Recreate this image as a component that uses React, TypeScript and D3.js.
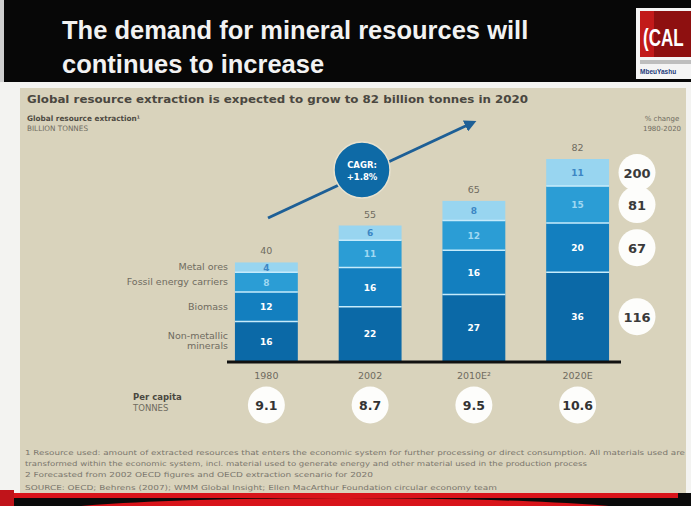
import React from "react";
import * as d3 from "d3";

const years = ["1980", "2002", "2010E", "2020E"];
const yearLabels = ["1980", "2002", "2010E²", "2020E"];
const nonMetallic = [16, 22, 27, 36];
const biomass = [12, 16, 18, 20];
const fossil = [8, 11, 12, 15];
const metalOres = [4, 6, 8, 11];
const totals = [40, 55, 65, 82];
const segLabels = [
  ["16", "22", "27", "36"],
  ["12", "16", "16", "20"],
  ["8", "11", "12", "15"],
  ["4", "6", "8", "11"],
];
const pctChange = [116, 67, 81, 200];
const perCapita = ["9.1", "8.7", "9.5", "10.6"];
const legendLines = [["Non-metallic", "minerals"], ["Biomass"], ["Fossil energy carriers"], ["Metal ores"]];

const colors = ["#0b69a7", "#137fbf", "#2b9dd5", "#98d5f0"];
const segText = ["#ffffff", "#ffffff", "#9fd8f2", "#3c86c4"];

export default function App() {
  const W = 691, H = 506;
  const x = d3.scaleBand().domain(years).range([214.5, 629.5]).paddingInner(0.394).paddingOuter(0.197);
  const y = d3.scaleLinear().domain([0, 82]).range([361, 159]);
  const rows = years.map((yr, i) => ({ year: yr, v: [nonMetallic[i], biomass[i], fossil[i], metalOres[i]] }));
  const stack = d3.stack<any>().keys(["0", "1", "2", "3"]).value((d: any, k: string) => d.v[+k]);
  const series = stack(rows as any);
  const bw = x.bandwidth();
  const font = "'Liberation Sans', Arial, sans-serif";
  const body = "'DejaVu Sans', Verdana, sans-serif";
  const gray = "#6f6b60";

  const arrowStart = [268, 218];
  const arrowEnd = [472, 123];
  const cagr = [362, 170];

  return (
    <div style={{ position: "fixed", left: 0, top: 0 }}>
      <svg width={W} height={H} style={{ display: "block", fontFamily: font }}>
        <defs>
          <marker id="ah" viewBox="0 0 10 10" refX="6" refY="5" markerWidth="4" markerHeight="4" orient="auto">
            <path d="M0,0 L10,5 L0,10 z" fill="#1d5f96" />
          </marker>
        </defs>
        <rect width={W} height={H} fill="#f3f3f1" />
        {/* header */}
        <rect x={0} y={0} width={W} height={82} fill="#070707" />
        <rect x={0} y={0} width={4} height={82} fill="#cfcfcf" />
        <text x={62} y={39} fill="#f2f2f2" fontSize={25.5} fontWeight="bold">The demand for mineral resources will</text>
        <text x={62} y={73} fill="#f2f2f2" fontSize={25.5} fontWeight="bold">continues to increase</text>
        {/* logo */}
        <rect x={636} y={8} width={55} height={71} fill="#f4f4f4" />
        <rect x={640} y={11} width={51} height={46} fill="#8e1010" />
        <rect x={640} y={11} width={14} height={46} fill="#c21a1a" />
        <g transform="translate(643,46) scale(1,1.45)">
          <text x={0} y={0} fill="#ffffff" fontSize={17} fontWeight="bold">(CAL</text>
        </g>
        <rect x={640} y={60} width={51} height={4} fill="#9a9a9a" opacity={0.6} />
        <text x={640} y={74} fill="#233a7a" fontSize={6.5} fontWeight="bold">MbeuYashu</text>
        {/* panel */}
        <rect x={20} y={88} width={666} height={405} fill="#d9d3bc" />
        <g fontFamily={body}>
          <text x={27} y={103} fill="#4a4740" fontSize={10} fontWeight="bold" textLength={501} lengthAdjust="spacingAndGlyphs">Global resource extraction is expected to grow to 82 billion tonnes in 2020</text>
          <text x={27} y={121} fill="#4f4b43" fontSize={7.5} fontWeight="bold" textLength={113} lengthAdjust="spacingAndGlyphs">Global resource extraction¹</text>
          <text x={27} y={131} fill={gray} fontSize={7.5} textLength={61} lengthAdjust="spacingAndGlyphs">BILLION TONNES</text>
          {/* arrow */}
          <line x1={arrowStart[0]} y1={arrowStart[1]} x2={arrowEnd[0]} y2={arrowEnd[1]} stroke="#1d5f96" strokeWidth={3} markerEnd="url(#ah)" />
          <circle cx={cagr[0]} cy={cagr[1]} r={28} fill="#0e6aa6" stroke="#e8e2cf" strokeWidth={1.5} />
          <text x={cagr[0]} y={cagr[1] - 2} textAnchor="middle" fill="#fff" fontSize={8.5} fontWeight="bold">CAGR:</text>
          <text x={cagr[0]} y={cagr[1] + 10} textAnchor="middle" fill="#fff" fontSize={8.5} fontWeight="bold">+1.8%</text>
          {/* bars */}
          {series.map((s, si) => (
            <g key={si}>
              {s.map((d: any, i: number) => {
                const x0 = x(years[i])!;
                const top = y(d[1]);
                const bot = y(d[0]);
                return (
                  <g key={i}>
                    <rect x={x0} y={top} width={bw} height={bot - top} fill={colors[si]} />
                    {si > 0 && <line x1={x0} x2={x0 + bw} y1={bot} y2={bot} stroke="#c6ebfb" strokeWidth={1.5} />}
                    <text x={x0 + bw / 2} y={(top + bot) / 2 + 3.5} textAnchor="middle" fill={segText[si]} fontSize={9} fontWeight="bold">
                      {segLabels[si][i]}
                    </text>
                  </g>
                );
              })}
            </g>
          ))}
          {/* totals */}
          {years.map((yr, i) => (
            <text key={yr} x={x(yr)! + bw / 2} y={y(totals[i]) - 8} textAnchor="middle" fill={gray} fontSize={9.5}>{totals[i]}</text>
          ))}
          {/* baseline */}
          <line x1={227} x2={621} y1={y(0) + 1} y2={y(0) + 1} stroke="#111" strokeWidth={3} />
          {years.map((yr, i) => (
            <text key={yr} x={x(yr)! + bw / 2} y={379} textAnchor="middle" fill={gray} fontSize={9.5}>{yearLabels[i]}</text>
          ))}
          {/* legend labels */}
          {series.map((s, si) => {
            const d: any = s[0];
            const mid = y((d[0] + d[1]) / 2);
            const lines = legendLines[si];
            return (
              <text key={si} x={228} textAnchor="end" fill={gray} fontSize={9.5}>
                {lines.map((l, li) => (
                  <tspan key={li} x={228} y={mid + 3 - (lines.length - 1) * 5 + li * 10}>{l}</tspan>
                ))}
              </text>
            );
          })}
          {/* % change */}
          <text x={662} y={121} textAnchor="middle" fill={gray} fontSize={7}>% change</text>
          <text x={662} y={131} textAnchor="middle" fill={gray} fontSize={7}>1980-2020</text>
          {series.map((s, si) => {
            const d: any = s[3];
            const mid = y((d[0] + d[1]) / 2);
            return (
              <g key={si}>
                <circle cx={637} cy={mid} r={18.5} fill="#fdfdfb" />
                <text x={637} y={mid + 5} textAnchor="middle" fill="#3a3a3a" fontSize={13} fontWeight="bold">{pctChange[si]}</text>
              </g>
            );
          })}
          {/* per capita */}
          <text x={133} y={400} fill="#4a4740" fontSize={8.5} fontWeight="bold">Per capita</text>
          <text x={133} y={411} fill={gray} fontSize={8.5}>TONNES</text>
          {years.map((yr, i) => (
            <g key={yr}>
              <circle cx={x(yr)! + bw / 2} cy={405} r={18.5} fill="#fdfdfb" />
              <text x={x(yr)! + bw / 2} y={410} textAnchor="middle" fill="#333" fontSize={12.5} fontWeight="bold">{perCapita[i]}</text>
            </g>
          ))}
          {/* footnotes */}
          <g fill="#7a766c" fontSize={6.8}>
            <text x={25} y={455} textLength={660} lengthAdjust="spacingAndGlyphs">1  Resource used: amount of extracted resources that enters the economic system for further processing or direct consumption. All materials used are</text>
            <text x={25} y={466} textLength={562} lengthAdjust="spacingAndGlyphs">transformed within the economic system, incl. material used to generate energy and other material used in the production process</text>
            <text x={25} y={477} textLength={348} lengthAdjust="spacingAndGlyphs">2  Forecasted from 2002 OECD figures and OECD extraction scenario for 2020</text>
            <text x={25} y={490} textLength={472} lengthAdjust="spacingAndGlyphs">SOURCE: OECD; Behrens (2007); WMM Global Insight; Ellen MacArthur Foundation circular economy team</text>
          </g>
        </g>
        {/* bottom band */}
        <rect x={0} y={493} width={W} height={13} fill="#0a0a0a" />
        <rect x={14} y={493} width={664} height={5} fill="#d8141a" />
        <ellipse cx={345} cy={518} rx={330} ry={20} fill="#d8141a" />
        <rect x={0} y={490} width={14} height={16} fill="#c0141a" />
      </svg>
    </div>
  );
}
